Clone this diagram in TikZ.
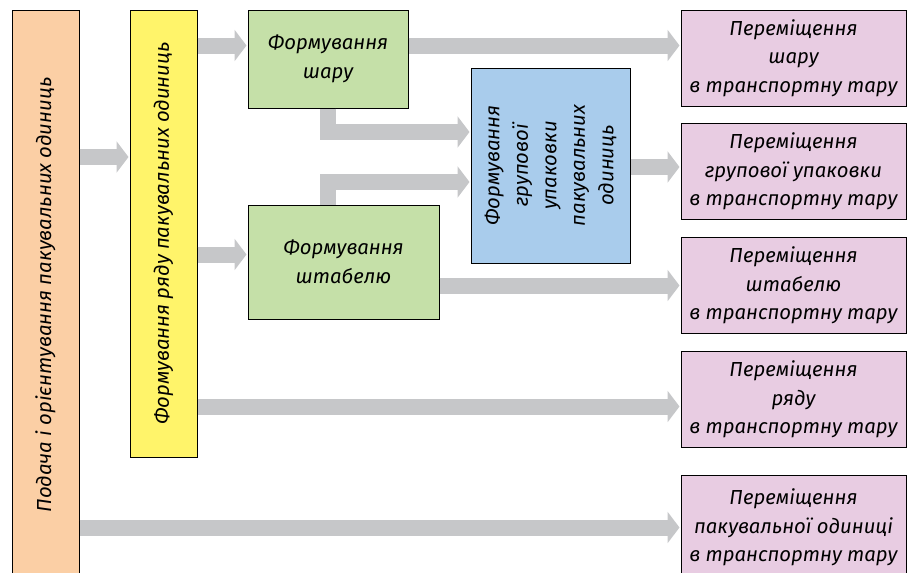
\documentclass[tikz,border=0pt]{standalone}
\usepackage{fontspec}
\setmainfont{Fira Sans}
\usepackage{tikz}
\usetikzlibrary{arrows.meta,positioning,calc}
\definecolor{feedc}{RGB}{251,207,165}
\definecolor{rowc}{RGB}{255,244,106}
\definecolor{formc}{RGB}{197,224,168}
\definecolor{groupc}{RGB}{169,204,236}
\definecolor{movec}{RGB}{232,204,226}
\definecolor{flowc}{RGB}{198,199,201}

\begin{document}
\begin{tikzpicture}[x=1pt, y=-1pt,
    font=\fontsize{20.3}{28.5}\selectfont\itshape,
    box/.style={draw=black, line width=1pt, align=center, inner sep=2pt},
    flow/.style={draw=flowc, line width=16pt, line join=miter,
                 -{Triangle[length=12pt,width=31pt]}, shorten >=1pt}]
\useasboundingbox (0,0) rectangle (916,573);
\tikzstyle{move}=[box, fill=movec, minimum width=225pt, minimum height=96pt]

\node[box, fill=feedc, rotate=90, minimum width=570pt, minimum height=67pt] (feed) at (45.5,295)
    {Подача і орієнтування пакувальних одиниць};
\node[box, fill=rowc, rotate=90, minimum width=447pt, minimum height=67pt] (row) at (163.5,233.5)
    {Формування ряду пакувальних одиниць};
\node[box, fill=formc, minimum width=160pt, minimum height=98pt] (layer) at (328,59)
    {Формування\\шару};
\node[box, fill=formc, minimum width=191pt, minimum height=114pt] (stack) at (343.5,262)
    {Формування\\штабелю};
\node[box, fill=groupc, rotate=90, minimum width=195pt, minimum height=159pt] (group) at (550.5,165.5)
    {Формування\\групової\\упаковки\\пакувальних\\одиниць};

\node[move] (mlayer) at (793.5,58)    {Переміщення\\шару\\в транспортну тару};
\node[move] (mgroup) at (793.5,171.5) {Переміщення\\групової упаковки\\в транспортну тару};
\node[move] (mstack) at (793.5,285.5) {Переміщення\\штабелю\\в транспортну тару};
\node[move] (mrow)   at (793.5,399.5) {Переміщення\\ряду\\в транспортну тару};
\node[move, minimum height=105pt] (munit) at (793.5,527.5) {Переміщення\\пакувальної одиниці\\в транспортну тару};

% gray flows
\draw[flow] (feed.south |- 0,157) -- (row.north |- 0,157);
\draw[flow] (row.south |- 0,45.5) -- (layer.west |- 0,45.5);
\draw[flow] (row.south |- 0,254.5) -- (stack.west |- 0,254.5);
\draw[flow] (layer.east |- 0,45.5) -- (mlayer.west |- 0,45.5);
\draw[flow] (layer.south) |- (group.north |- 0,132);
\draw[flow] (stack.north -| layer.south) |- (group.north |- 0,182);
\draw[flow] (group.south |- 0,167) -- (mgroup.west |- 0,167);
\draw[flow] (stack.east |- mstack.west) -- (mstack.west);
\draw[flow] (row.south |- 0,406.5) -- (mrow.west |- 0,406.5);
\draw[flow] (feed.south |- munit.west) -- (munit.west);
\end{tikzpicture}
\end{document}
